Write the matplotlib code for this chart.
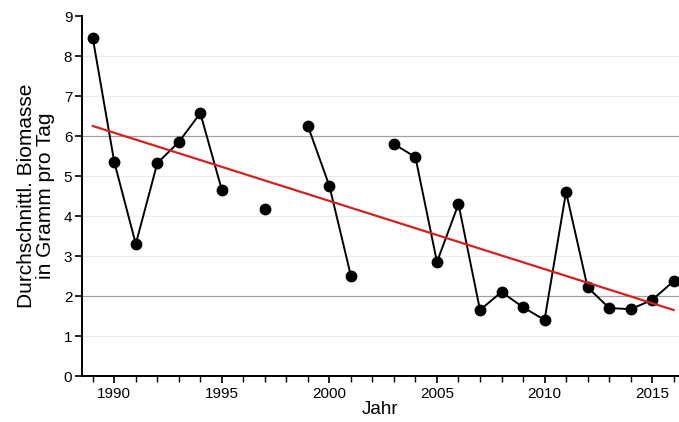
import numpy as np
import matplotlib
matplotlib.use("Agg")
import matplotlib.pyplot as plt
from matplotlib.ticker import MultipleLocator

plt.rcParams['font.family'] = ['Liberation Sans', 'DejaVu Sans']

years = np.arange(1989, 2017)
biomass = [8.45, 5.35, 3.3, 5.32, 5.85, 6.57, 4.65, np.nan, 4.17, np.nan,
           6.25, 4.75, 2.5, np.nan, 5.8, 5.47, 2.85, 4.3, 1.65, 2.1,
           1.72, 1.4, 4.6, 2.22, 1.7, 1.67, 1.9, 2.37]
trend_years = [1989, 2016]
trend_values = [6.25, 1.65]

fig = plt.figure(figsize=(6.79, 4.22), dpi=100)
ax = fig.add_axes([82/679, 1-376/422, 1-82/679, (376-16)/422])

for v in [1, 3, 4, 5, 7, 8]:
    ax.axhline(v, color='#ececec', lw=0.8, zorder=0)
for v in [2, 6]:
    ax.axhline(v, color='#a0a0a0', lw=0.9, zorder=0)

b = np.array(biomass, dtype=float)
ax.plot(years, b, color='black', lw=1.4, zorder=2)
ax.plot(years, b, 'o', color='black', ms=7.5, zorder=3)
ax.plot(trend_years, trend_values, color='#d42020', lw=1.6, zorder=4)

ax.set_xlim(1988.5, 2016.25)
ax.set_ylim(0, 9)
ax.xaxis.set_major_locator(MultipleLocator(5))
ax.xaxis.set_minor_locator(MultipleLocator(1))
ax.yaxis.set_major_locator(MultipleLocator(1))
ax.tick_params(axis='both', which='major', direction='out', length=5, width=1.2, labelsize=11, colors='black')
ax.tick_params(axis='x', which='minor', direction='out', length=4, width=1.0)
ax.tick_params(axis='x', which='major', length=5, pad=3)
ax.tick_params(axis='y', pad=2)
for s in ['top', 'right']:
    ax.spines[s].set_visible(False)
for s in ['left', 'bottom']:
    ax.spines[s].set_linewidth(1.4)

ax.set_xlabel('Jahr', fontsize=13.5, labelpad=0)
ax.set_ylabel('Durchschnittl. Biomasse\nin Gramm pro Tag', fontsize=15, labelpad=6, linespacing=1.05)

fig.savefig('out.png', dpi=100)
